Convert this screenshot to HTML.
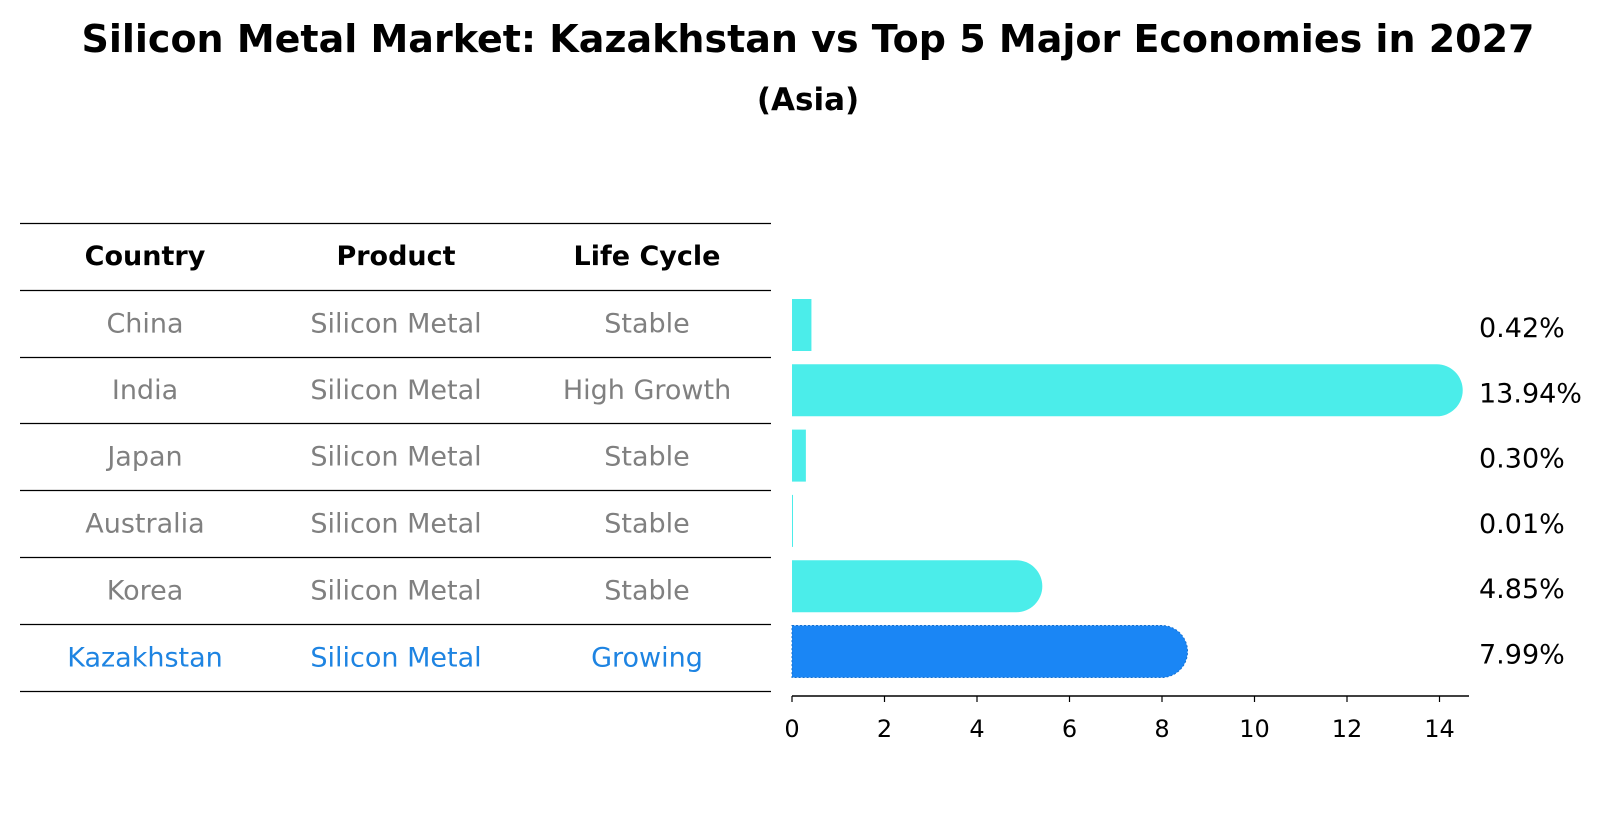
<!DOCTYPE html>
<html><head><meta charset="utf-8">
<style>
body{margin:0;background:#fff;font-family:"Liberation Sans","DejaVu Sans",sans-serif;}
svg text{font-family:"DejaVu Sans","Liberation Sans",sans-serif;}
</style></head>
<body>
<svg id="chart" width="1604" height="823" viewBox="0 0 1604 823" xmlns="http://www.w3.org/2000/svg">
<text x="808" y="52" text-anchor="middle" font-size="38" font-weight="bold">Silicon Metal Market: Kazakhstan vs Top 5 Major Economies in 2027</text>
<text x="808" y="110" text-anchor="middle" font-size="31" font-weight="bold">(Asia)</text>
<g id="table"></g>
<g id="bars"></g>
</svg>
<script>
const countries=["China","India","Japan","Australia","Korea","Kazakhstan"];
const products=["Silicon Metal","Silicon Metal","Silicon Metal","Silicon Metal","Silicon Metal","Silicon Metal"];
const lifeCycles=["Stable","High Growth","Stable","Stable","Stable","Growing"];
const values=[0.42,13.94,0.30,0.01,4.85,7.99];
const valueLabels=["0.42%","13.94%","0.30%","0.01%","4.85%","7.99%"];
const ticks=[0,2,4,6,8,10,12,14];

const NS="http://www.w3.org/2000/svg";
function mk(tag,attrs,parent){const e=document.createElementNS(NS,tag);for(const k in attrs)e.setAttribute(k,attrs[k]);parent.appendChild(e);return e;}
const x0=792, ppu=46.25;
function xs(v){return x0+v*ppu;}
const rowTop=[223,290,357,423,490,557,624,691];
function yc(i){return 325+i*65.3;}
const barH=52;

const tbl=document.getElementById('table');
rowTop.forEach((y,i)=>{const l=mk('line',{x1:20,x2:771,y1:y+0.5,y2:y+0.5,stroke:'#000','stroke-width':1.2},tbl);

});
const colX=[145,396,647];
["Country","Product","Life Cycle"].forEach((h,j)=>{const t=mk('text',{x:colX[j],y:265,'text-anchor':'middle','font-size':27,'font-weight':'bold'},tbl);t.textContent=h;

});
countries.forEach((c,i)=>{
  const cy=(rowTop[i+1]+rowTop[i+2])/2+9;
  const col=i===countries.length-1?'#1e84e2':'#808080';
  [c,products[i],lifeCycles[i]].forEach((s,j)=>{const t=mk('text',{x:colX[j],y:cy,'text-anchor':'middle','font-size':27,fill:col},tbl);t.textContent=s;
  
  });
});

const g=document.getElementById('bars');
values.forEach((v,i)=>{
  const top=yc(i)-barH/2;
  const last=i===values.length-1;
  const fill=last?'#1a86f5':'#4bedea';
  let el;
  if(v>1){
    const xe=xs(v), r=barH/2;
    el=mk('path',{d:`M${x0},${top} H${xe} A${r},${r} 0 0 1 ${xe},${top+barH} H${x0} Z`,fill:fill},g);
    if(last){el.setAttribute('stroke','#1570d0');el.setAttribute('stroke-dasharray','2,2');el.setAttribute('stroke-width','1');}
  } else {
    el=mk('rect',{x:x0,y:top,width:Math.max(v*ppu,1),height:barH,fill:fill},g);
  }
  
  
  const t=mk('text',{x:1479,y:yc(i)+12,'font-size':27},g);t.textContent=valueLabels[i];
  
  
});
const ax=mk('line',{x1:x0,x2:1469,y1:696,y2:696,stroke:'#000','stroke-width':1.5},g);


ticks.forEach(tv=>{
  const tk=mk('line',{x1:xs(tv),x2:xs(tv),y1:696,y2:702,stroke:'#000','stroke-width':1.2},g);
  
  
  const t=mk('text',{x:xs(tv),y:737,'text-anchor':'middle','font-size':24},g);t.textContent=tv;
  
  
});
</script>
</body></html>
